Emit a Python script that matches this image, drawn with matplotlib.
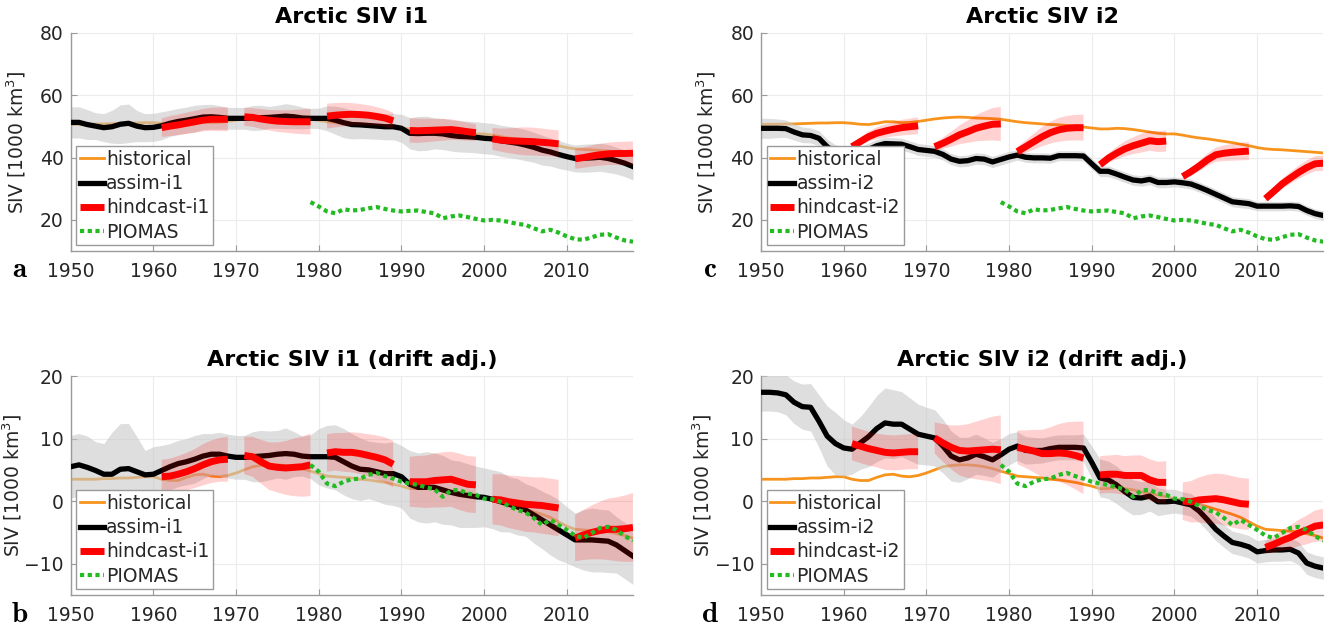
import numpy as np
import matplotlib
matplotlib.use('Agg')
import matplotlib.pyplot as plt

N = np.nan
years = list(range(1950, 2019))
piomas_years = list(range(1979, 2019))

# ---------------- data (1000 km^3) ----------------
hist_raw = [50.6, 50.7, 50.7, 50.8, 50.8, 50.9, 51.0, 51.1, 51.1, 51.2, 51.2,
            51.0, 50.7, 50.6, 51.0, 51.5, 51.5, 51.2, 51.3, 51.6, 52.0,
            52.4, 52.7, 52.9, 53.0, 52.9, 52.7, 52.6, 52.5, 52.3, 51.9,
            51.5, 51.2, 51.0, 50.8, 50.6, 50.5, 50.3, 50.1, 49.8, 49.5,
            49.2, 49.2, 49.4, 49.3, 49.0, 48.6, 48.2, 47.8, 47.6, 47.6,
            47.2, 46.7, 46.3, 46.0, 45.6, 45.2, 44.8, 44.3, 43.8, 43.2,
            42.8, 42.6, 42.5, 42.3, 42.1, 41.9, 41.7, 41.5]

hist_adj = [3.5, 3.5, 3.5, 3.5, 3.6, 3.6, 3.7, 3.7, 3.8, 3.9, 3.9,
            3.5, 3.3, 3.3, 3.8, 4.2, 4.3, 4.0, 3.9, 4.1, 4.5,
            5.0, 5.5, 5.7, 5.8, 5.8, 5.7, 5.5, 5.2, 4.8, 4.4,
            4.0, 3.9, 3.8, 3.7, 3.5, 3.4, 3.2, 3.0, 2.7, 2.4,
            2.0, 2.0, 2.2, 2.0, 1.8, 1.5, 1.2, 1.0, 0.7, 0.4,
            0.2, -0.1, -0.5, -0.9, -1.3, -1.7, -2.1, -2.6, -3.3, -4.0,
            -4.5, -4.6, -4.7, -4.8, -4.9, -5.2, -5.5, -5.9]

piomas_raw = [25.7, 24.3, 22.7, 22.1, 23.4, 23.0, 23.2, 23.7, 24.1, 23.5,
              23.0, 22.7, 22.9, 23.0, 22.5, 22.1, 20.5, 21.1, 21.4, 20.9,
              20.3, 19.8, 20.0, 19.8, 19.3, 18.7, 18.4, 17.3, 16.3, 16.8,
              15.9, 14.7, 13.8, 13.6, 14.4, 15.2, 15.4, 14.3, 13.4, 13.0]

piomas_adj = [5.8, 4.7, 2.8, 2.4, 3.1, 3.5, 3.6, 4.2, 4.5, 4.0,
              3.6, 3.1, 2.8, 2.6, 2.2, 1.9, 0.7, 1.7, 1.8, 1.2,
              1.0, 0.4, 0.3, -0.1, -0.8, -1.4, -1.8, -2.7, -3.8, -3.0,
              -3.8, -4.6, -5.5, -5.9, -5.1, -4.3, -4.1, -4.6, -5.6, -6.3]

# panel a: assim-i1 / hindcast-i1 (raw)
assim_i1 = [51.3, 51.3, 50.6, 50.1, 49.6, 49.9, 50.7, 51.0, 50.1, 49.6, 49.7,
            50.2, 51.0, 51.6, 52.0, 52.5, 53.0, 53.1, 52.9, 52.6, 52.6,
            52.6, 52.7, 52.8, 52.9, 53.1, 53.3, 53.1, 52.7, 52.6, 52.6,
            52.6, 52.0, 51.2, 50.6, 50.5, 50.3, 50.1, 49.9, 49.9, 49.4,
            47.8, 47.7, 47.8, 47.8, 47.6, 47.1, 46.8, 46.7, 46.5, 46.2,
            46.0, 45.4, 45.0, 44.6, 44.0, 43.3, 42.4, 41.8, 41.0, 40.3,
            39.7, 39.8, 39.9, 40.1, 39.7, 39.0, 38.2, 37.1]
assim_i1_sd = [5.0, 5.0, 4.8, 4.3, 4.5, 5.3, 6.2, 6.2, 5.0, 4.5, 4.5,
               4.5, 4.2, 4.2, 4.2, 4.3, 4.0, 4.0, 3.8, 3.5, 3.5,
               3.5, 4.0, 4.0, 3.5, 3.7, 4.0, 3.8, 3.5, 3.2, 3.3,
               4.0, 4.5, 4.8, 4.6, 4.4, 4.3, 4.2, 4.2, 4.2, 4.5,
               5.0, 5.5, 5.5, 5.0, 5.0, 5.0, 5.0, 5.0, 5.0, 5.0,
               5.0, 5.0, 5.0, 5.0, 5.0, 4.8, 4.8, 4.5, 4.5, 4.3,
               4.3, 4.5, 4.5, 4.5, 4.5, 4.3, 4.3, 4.3]
hind_i1 = [N] * 11 + \
    [49.6, 50.1, 50.5, 51.0, 51.5, 52.0, 52.3, 52.3, 52.3, N,
     53.1, 52.9, 52.4, 52.0, 51.7, 51.6, 51.5, 51.5, 51.5, N,
     53.3, 53.6, 53.8, 53.9, 53.8, 53.6, 53.2, 52.7, 51.8, N,
     48.7, 48.6, 48.7, 48.8, 48.9, 49.0, 48.7, 48.3, 48.0, N,
     46.0, 45.6, 45.4, 45.3, 45.2, 45.1, 44.9, 44.7, 44.4, N,
     39.6, 40.0, 40.5, 40.9, 41.2, 41.3, 41.3, 41.4]
hind_i1_sd = [N] * 11 + \
    [3.0, 3.2, 3.3, 3.4, 3.5, 3.6, 3.7, 3.8, 3.8, N,
     2.9, 3.0, 3.2, 3.3, 3.5, 3.6, 3.8, 4.0, 4.1, N,
     4.0, 3.9, 3.8, 3.6, 3.4, 3.2, 3.0, 2.8, 2.6, N,
     3.9, 3.9, 3.8, 3.6, 3.5, 3.3, 3.1, 2.9, 2.7, N,
     3.5, 3.7, 4.0, 4.3, 4.5, 4.5, 4.4, 4.3, 4.3, N,
     3.2, 3.3, 3.4, 3.5, 3.6, 3.7, 3.8, 3.8]

# panel b: drift adjusted i1
assim_i1_adj = [5.5, 5.8, 5.4, 4.9, 4.3, 4.3, 5.1, 5.2, 4.7, 4.2, 4.3,
                4.9, 5.5, 6.0, 6.3, 6.7, 7.2, 7.5, 7.5, 7.2, 7.0,
                7.0, 7.1, 7.2, 7.3, 7.5, 7.6, 7.5, 7.2, 7.1, 7.1,
                7.1, 7.0, 6.3, 5.6, 5.1, 5.0, 4.7, 4.4, 4.4, 3.9,
                2.7, 2.2, 2.2, 2.2, 1.8, 1.4, 1.1, 0.9, 0.7, 0.6,
                0.3, -0.1, -0.5, -0.9, -1.4, -2.2, -3.0, -3.8, -4.6, -5.4,
                -6.2, -6.2, -6.2, -6.3, -6.4, -7.0, -7.9, -8.8]
assim_i1_adj_sd = [5.0, 5.0, 5.0, 4.6, 4.9, 6.7, 7.3, 7.2, 5.6, 3.9, 4.4,
                   4.0, 3.7, 3.7, 3.7, 3.8, 3.6, 3.3, 3.5, 3.5, 3.5,
                   3.5, 4.0, 4.1, 3.9, 3.8, 4.1, 3.6, 3.2, 3.5, 4.5,
                   5.0, 5.2, 5.3, 5.2, 5.0, 4.6, 4.7, 4.9, 5.1, 5.0,
                   5.4, 5.5, 5.7, 5.5, 5.5, 5.2, 5.3, 5.1, 4.9, 4.7,
                   4.7, 4.8, 4.4, 4.5, 4.2, 4.5, 4.6, 4.8, 4.8, 4.5,
                   4.3, 4.8, 5.1, 5.0, 5.0, 4.5, 4.5, 4.5]
hind_i1_adj = [N] * 11 + \
    [3.9, 4.0, 4.3, 4.7, 5.2, 5.8, 6.3, 6.6, 6.7, N,
     7.3, 7.1, 6.3, 5.6, 5.4, 5.3, 5.4, 5.5, 5.8, N,
     7.7, 7.9, 7.8, 7.8, 7.6, 7.3, 7.0, 6.6, 5.9, N,
     3.1, 3.1, 3.1, 3.3, 3.4, 3.5, 3.1, 2.7, 2.6, N,
     0.3, 0.2, -0.1, -0.3, -0.5, -0.6, -0.7, -0.9, -1.1, N,
     -5.9, -5.4, -5.0, -4.7, -4.5, -4.5, -4.4, -4.2]
hind_i1_adj_sd = [N] * 11 + \
    [2.7, 2.8, 2.9, 3.0, 3.1, 3.3, 3.4, 3.5, 3.6, N,
     3.0, 3.2, 3.5, 3.8, 4.0, 4.3, 4.6, 4.8, 5.0, N,
     3.0, 3.0, 3.1, 3.2, 3.3, 3.4, 3.5, 3.6, 3.7, N,
     4.0, 4.1, 4.2, 4.3, 4.4, 4.4, 4.5, 4.5, 4.5, N,
     4.0, 4.1, 4.2, 4.3, 4.4, 4.4, 4.5, 4.5, 4.5, N,
     3.7, 4.0, 4.3, 4.6, 4.9, 5.1, 5.3, 5.5]

# panel c: assim-i2 / hindcast-i2 (raw)
assim_i2 = [49.4, 49.4, 49.4, 49.3, 48.2, 47.3, 47.1, 46.2, 43.5, 41.8, 40.9,
            40.5, 41.5, 42.6, 43.8, 44.5, 44.4, 44.3, 43.5, 42.6, 42.3,
            42.0, 41.0, 39.5, 38.8, 39.0, 39.7, 39.5, 38.6, 39.4, 40.2,
            40.8, 40.1, 39.9, 39.9, 39.8, 40.6, 40.6, 40.6, 40.5, 38.0,
            35.6, 35.6, 34.7, 33.7, 32.8, 32.5, 33.0, 32.0, 32.0, 32.2,
            31.9, 31.5, 30.5, 29.4, 28.2, 27.0, 25.8, 25.5, 25.2, 24.4,
            24.4, 24.4, 24.4, 24.5, 24.3, 23.0, 22.0, 21.4]
assim_i2_sd = [3.2, 3.2, 3.0, 2.8, 2.6, 2.5, 2.4, 2.4, 2.4, 2.3, 2.2,
               2.2, 2.1, 2.0, 2.0, 2.0, 2.0, 1.9, 1.9, 1.9, 1.9,
               1.9, 1.8, 1.8, 1.8, 1.8, 1.8, 1.8, 1.8, 1.8, 1.8,
               1.6, 1.6, 1.6, 1.6, 1.6, 1.6, 1.6, 1.6, 1.6, 1.7,
               1.7, 1.7, 1.7, 1.7, 1.7, 1.7, 1.7, 1.7, 1.7, 1.6,
               1.6, 1.6, 1.6, 1.6, 1.6, 1.6, 1.6, 1.6, 1.6, 1.5,
               1.5, 1.5, 1.5, 1.5, 1.5, 1.5, 1.5, 1.5]
hind_i2 = [N] * 11 + \
    [43.5, 45.1, 46.7, 47.8, 48.5, 49.1, 49.6, 49.9, 50.2, N,
     43.5, 44.6, 45.9, 47.3, 48.3, 49.4, 50.1, 50.7, 50.8, N,
     41.9, 43.5, 45.1, 46.7, 48.0, 48.9, 49.4, 49.6, 49.6, N,
     37.7, 39.8, 41.4, 42.8, 43.8, 44.6, 45.4, 45.1, 45.3, N,
     33.9, 35.5, 37.3, 39.3, 40.9, 41.4, 41.7, 41.9, 42.1, N,
     26.8, 29.1, 31.5, 33.4, 35.2, 36.8, 38.0, 38.2]
hind_i2_sd = [N] * 11 + \
    [1.0, 1.3, 1.6, 1.9, 2.1, 2.3, 2.5, 2.6, 2.7, N,
     1.2, 1.8, 2.4, 3.0, 3.6, 4.2, 4.7, 5.2, 5.5, N,
     1.5, 2.0, 2.6, 3.1, 3.5, 3.8, 4.0, 4.1, 4.2, N,
     1.0, 1.5, 2.0, 2.4, 2.7, 3.0, 3.2, 3.3, 3.4, N,
     1.0, 1.3, 1.7, 2.0, 2.3, 2.5, 2.7, 2.8, 2.9, N,
     1.0, 1.3, 1.6, 1.9, 2.1, 2.3, 2.4, 2.5]

# panel d: drift adjusted i2
assim_i2_adj = [17.4, 17.4, 17.3, 17.0, 15.8, 15.1, 15.0, 12.8, 10.4, 9.2, 8.5,
                8.3, 9.3, 10.3, 11.6, 12.5, 12.3, 12.3, 11.5, 10.7, 10.4,
                10.1, 8.8, 7.2, 6.6, 6.9, 7.5, 7.1, 6.6, 7.4, 8.3,
                8.8, 8.1, 8.1, 8.1, 8.4, 8.6, 8.6, 8.6, 8.5, 6.2,
                3.7, 3.4, 2.6, 1.5, 0.6, 0.5, 0.8, -0.1, -0.1, 0.0,
                -0.3, -0.6, -1.6, -3.0, -4.5, -5.6, -6.6, -6.9, -7.3, -8.1,
                -7.9, -7.8, -7.8, -7.7, -8.3, -9.9, -10.4, -10.7]
assim_i2_adj_sd = [3.0, 3.0, 3.0, 3.2, 3.4, 3.6, 3.8, 4.2, 4.8, 5.0, 4.5,
                   4.0, 4.2, 4.8, 5.3, 5.6, 5.5, 5.2, 5.0, 4.8, 4.6,
                   4.5, 4.3, 4.0, 3.6, 3.3, 3.2, 3.0, 2.8, 2.6, 2.5,
                   2.3, 2.2, 2.1, 2.0, 2.0, 2.0, 2.0, 2.0, 2.2, 2.6,
                   3.0, 3.0, 3.0, 2.9, 2.8, 2.6, 2.4, 2.2, 2.0, 1.9,
                   1.8, 1.8, 1.8, 1.8, 1.8, 1.8, 1.8, 1.8, 1.8, 1.8,
                   1.8, 1.8, 1.8, 1.8, 1.8, 1.8, 1.8, 1.8]
hind_i2_adj = [N] * 11 + \
    [9.2, 8.8, 8.4, 8.1, 7.8, 7.7, 7.8, 7.9, 7.9, N,
     10.1, 9.3, 8.6, 8.1, 8.0, 8.1, 8.2, 8.3, 8.2, N,
     8.6, 8.3, 8.0, 7.6, 7.6, 7.7, 7.6, 7.3, 6.9, N,
     4.2, 4.3, 4.3, 4.1, 4.1, 4.1, 3.4, 3.0, 3.0, N,
     0.0, -0.1, 0.2, 0.3, 0.4, 0.2, -0.1, -0.4, -0.5, N,
     -7.4, -6.9, -6.3, -5.8, -5.1, -4.6, -4.0, -3.8]
hind_i2_adj_sd = [N] * 11 + \
    [2.7, 2.7, 2.7, 2.7, 2.8, 2.8, 2.8, 2.8, 2.8, N,
     2.5, 3.0, 3.5, 4.0, 4.3, 4.6, 4.9, 5.2, 5.5, N,
     2.7, 3.0, 3.4, 3.8, 4.2, 4.6, 5.0, 5.4, 5.8, N,
     3.0, 3.0, 3.1, 3.1, 3.2, 3.2, 3.3, 3.3, 3.4, N,
     3.0, 3.3, 3.6, 3.9, 4.0, 4.1, 4.1, 4.1, 4.1, N,
     1.0, 1.3, 1.6, 1.9, 2.1, 2.3, 2.5, 2.6]

xticks = [1950, 1960, 1970, 1980, 1990, 2000, 2010]

# ---------------- styling ----------------
ORANGE = '#f7941e'
GREEN = '#22bb22'
TXT = '#262626'
SPINE = '#9a9a9a'

W, H = 1330, 627
fig = plt.figure(figsize=(W / 100, H / 100), dpi=100)


def fx(px):
    return px / W


def fy(py):
    return 1 - py / H


def panel(rect, title, hist, assim, assim_sd, hind, hind_sd, piomas, run,
          ylim, yticks, letter, letter_xy, ylabel_x):
    ax = fig.add_axes(rect)
    yr = np.array(years, dtype=float)
    a = np.array(assim, dtype=float)
    asd = np.array(assim_sd, dtype=float)
    h = np.array(hind, dtype=float)
    hsd = np.array(hind_sd, dtype=float)

    ax.plot(yr, hist, color=ORANGE, lw=2.0, zorder=1, label='historical')
    ax.fill_between(yr, a - asd, a + asd, color='#c8c8c8', alpha=0.6,
                    lw=0, zorder=2)
    ax.plot(yr, a, color='black', lw=3.8, zorder=3, label='assim-' + run)
    lo = np.ma.masked_invalid(h - hsd)
    hi = np.ma.masked_invalid(h + hsd)
    ax.fill_between(yr, lo, hi, color='red', alpha=0.18, lw=0, zorder=4)
    ax.plot(yr, h, color='red', lw=5.0, zorder=5, label='hindcast-' + run,
            solid_capstyle='butt')
    ax.plot(piomas_years, piomas, color=GREEN, lw=3.0,
            linestyle=(0, (1, 0.85)), zorder=6, label='PIOMAS')

    ax.set_xlim(1950, 2018)
    ax.set_ylim(*ylim)
    ax.set_xticks(xticks)
    ax.set_yticks(yticks)
    ax.grid(True, color='#ececec', lw=0.8)
    ax.set_axisbelow(True)
    for s in ('top', 'right'):
        ax.spines[s].set_visible(False)
    for s in ('left', 'bottom'):
        ax.spines[s].set_color(SPINE)
        ax.spines[s].set_linewidth(1.0)
    ax.tick_params(direction='in', length=4, color=SPINE, labelcolor=TXT,
                   labelsize=13.5)
    ax.tick_params(axis='x', pad=8)
    ax.tick_params(axis='y', pad=5)
    ax.set_title(title, fontsize=16, fontweight='bold', pad=7, color='black')
    ax.set_ylabel('SIV [1000 km$^3$]', fontsize=13.5, color=TXT)
    ax.yaxis.set_label_coords(ylabel_x, 0.5)

    leg = ax.legend(loc='lower left', fontsize=13.5, frameon=True,
                    fancybox=False, edgecolor='#9a9a9a', framealpha=1,
                    borderpad=0.2, labelspacing=0.28, handlelength=1.25,
                    handletextpad=0.15, borderaxespad=0.3)
    leg.get_frame().set_linewidth(1.0)
    leg.set_zorder(10)
    for t in leg.get_texts():
        t.set_color(TXT)

    fig.text(fx(letter_xy[0]), fy(letter_xy[1]), r'$\mathbf{' + letter + '}$',
             math_fontfamily='cm', fontsize=21, ha='center', va='baseline')
    return ax


top_rect_h = 218 / H
bot_rect_h = 219 / H
wid = 562.3 / W

panel([fx(70.7), fy(251), wid, top_rect_h], 'Arctic SIV i1',
      hist_raw, assim_i1, assim_i1_sd, hind_i1, hind_i1_sd, piomas_raw, 'i1',
      (10, 80), [20, 40, 60, 80], 'a', (20, 277), -0.076)
panel([fx(70.7), fy(595), wid, bot_rect_h], 'Arctic SIV i1 (drift adj.)',
      hist_adj, assim_i1_adj, assim_i1_adj_sd, hind_i1_adj, hind_i1_adj_sd,
      piomas_adj, 'i1', (-15, 20), [-10, 0, 10, 20], 'b', (20, 622), -0.083)
panel([fx(761), fy(251), wid, top_rect_h], 'Arctic SIV i2',
      hist_raw, assim_i2, assim_i2_sd, hind_i2, hind_i2_sd, piomas_raw, 'i2',
      (10, 80), [20, 40, 60, 80], 'c', (710, 277), -0.076)
panel([fx(761), fy(595), wid, bot_rect_h], 'Arctic SIV i2 (drift adj.)',
      hist_adj, assim_i2_adj, assim_i2_adj_sd, hind_i2_adj, hind_i2_adj_sd,
      piomas_adj, 'i2', (-15, 20), [-10, 0, 10, 20], 'd', (710, 622), -0.083)

fig.savefig('out.png', dpi=100)
